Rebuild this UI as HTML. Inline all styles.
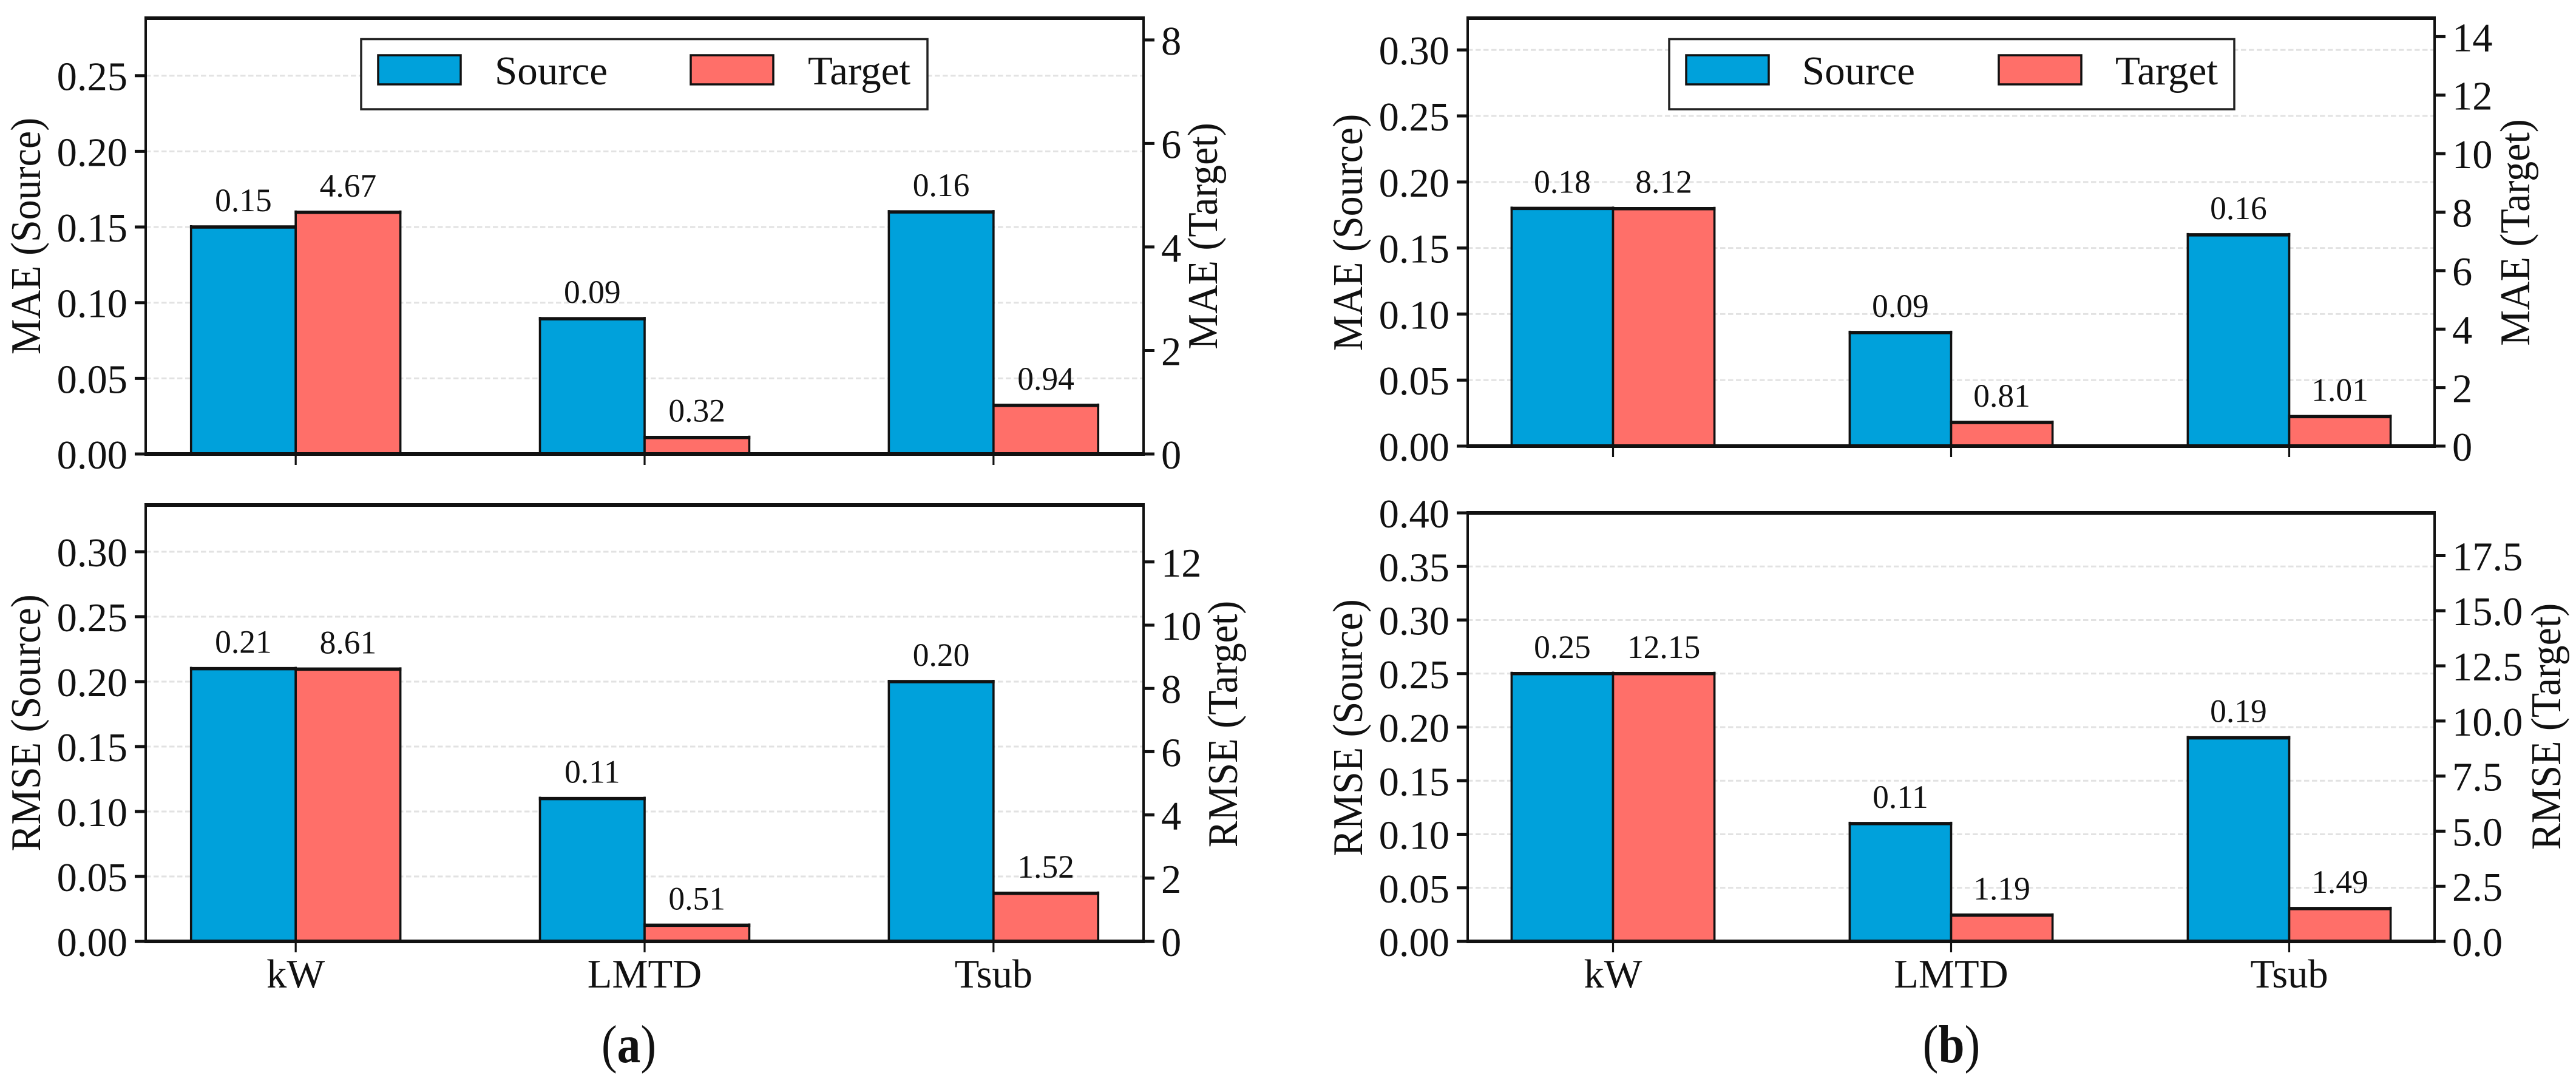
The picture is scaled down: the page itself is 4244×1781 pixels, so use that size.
<!DOCTYPE html>
<html lang="en">
<head>
<meta charset="utf-8">
<title>Source and target error bars</title>
<style>
html,body{margin:0;padding:0;background:#fff;width:4244px;height:1781px;overflow:hidden}
svg{display:block}
text{font-family:"Liberation Serif","Times New Roman",serif;fill:#111}
</style>
</head>
<body>
<svg id="chart" xmlns="http://www.w3.org/2000/svg" width="4244" height="1781" viewBox="0 0 4244 1781">
  <rect x="0" y="0" width="4244" height="1781" fill="#fff"/>
  <g id="plots"></g>

  <g font-size="66">
    <text transform="translate(66,389) rotate(-90) scale(1,1.06)" text-anchor="middle">MAE (Source)</text>
    <text transform="translate(2005,389) rotate(-90) scale(1,1.06)" text-anchor="middle">MAE (Target)</text>
    <text transform="translate(66,1191) rotate(-90) scale(1,1.06)" text-anchor="middle">RMSE (Source)</text>
    <text transform="translate(2038,1193) rotate(-90) scale(1,1.06)" text-anchor="middle">RMSE (Target)</text>
    <text transform="translate(2244,383) rotate(-90) scale(1,1.06)" text-anchor="middle">MAE (Source)</text>
    <text transform="translate(4167,383) rotate(-90) scale(1,1.06)" text-anchor="middle">MAE (Target)</text>
    <text transform="translate(2244,1199) rotate(-90) scale(1,1.06)" text-anchor="middle">RMSE (Source)</text>
    <text transform="translate(4218,1197) rotate(-90) scale(1,1.06)" text-anchor="middle">RMSE (Target)</text>
  </g>

  <g>
    <rect x="595" y="64.5" width="933" height="115.5" fill="#fff" stroke="#222" stroke-width="3.5"/>
    <rect x="623" y="91" width="136" height="48" fill="#00A1DB" stroke="#111" stroke-width="3.5"/>
    <text x="815" y="139" font-size="67">Source</text>
    <rect x="1138" y="91" width="136" height="48" fill="#FF6F69" stroke="#111" stroke-width="3.5"/>
    <text x="1331" y="139" font-size="67">Target</text>
  </g>
  <g>
    <rect x="2750" y="64.5" width="931" height="115.5" fill="#fff" stroke="#222" stroke-width="3.5"/>
    <rect x="2778" y="91" width="136" height="48" fill="#00A1DB" stroke="#111" stroke-width="3.5"/>
    <text x="2969" y="139" font-size="67">Source</text>
    <rect x="3293" y="91" width="136" height="48" fill="#FF6F69" stroke="#111" stroke-width="3.5"/>
    <text x="3485" y="139" font-size="67">Target</text>
  </g>

  <text transform="translate(1036,1750) scale(0.88,1)" font-size="88" text-anchor="middle">(<tspan font-weight="bold">a</tspan>)</text>
  <text transform="translate(3215,1750) scale(0.88,1)" font-size="88" text-anchor="middle">(<tspan font-weight="bold">b</tspan>)</text>
</svg>

<script>
var categories = ['kW', 'LMTD', 'Tsub'];

var maeSourceA = [0.15, 0.0894, 0.16];
var maeTargetA = [4.67, 0.32, 0.94];
var rmseSourceA = [0.21, 0.11, 0.20];
var rmseTargetA = [8.61, 0.51, 1.52];
var maeSourceB = [0.18, 0.086, 0.16];
var maeTargetB = [8.12, 0.81, 1.01];
var rmseSourceB = [0.25, 0.11, 0.19];
var rmseTargetB = [12.15, 1.19, 1.49];

var leftTicksMaeA = ['0.00', '0.05', '0.10', '0.15', '0.20', '0.25'];
var rightTicksMaeA = ['0', '2', '4', '6', '8'];
var leftTicksRmseA = ['0.00', '0.05', '0.10', '0.15', '0.20', '0.25', '0.30'];
var rightTicksRmseA = ['0', '2', '4', '6', '8', '10', '12'];
var leftTicksMaeB = ['0.00', '0.05', '0.10', '0.15', '0.20', '0.25', '0.30'];
var rightTicksMaeB = ['0', '2', '4', '6', '8', '10', '12', '14'];
var leftTicksRmseB = ['0.00', '0.05', '0.10', '0.15', '0.20', '0.25', '0.30', '0.35', '0.40'];
var rightTicksRmseB = ['0.0', '2.5', '5.0', '7.5', '10.0', '12.5', '15.0', '17.5'];

var panels = [
  {id: 'mae-a', x0: 240, x1: 1884, y0: 748, y1: 30, leftMax: 0.288, rightMax: 8.42, src: maeSourceA, tgt: maeTargetA, lt: leftTicksMaeA, rt: rightTicksMaeA, showCats: false},
  {id: 'rmse-a', x0: 240, x1: 1884, y0: 1551, y1: 832, leftMax: 0.336, rightMax: 13.8, src: rmseSourceA, tgt: rmseTargetA, lt: leftTicksRmseA, rt: rightTicksRmseA, showCats: true},
  {id: 'mae-b', x0: 2418, x1: 4011, y0: 735, y1: 30, leftMax: 0.324, rightMax: 14.63, src: maeSourceB, tgt: maeTargetB, lt: leftTicksMaeB, rt: rightTicksMaeB, showCats: false},
  {id: 'rmse-b', x0: 2418, x1: 4011, y0: 1551, y1: 845, leftMax: 0.40, rightMax: 19.44, src: rmseSourceB, tgt: rmseTargetB, lt: leftTicksRmseB, rt: rightTicksRmseB, showCats: true}
];

var NS = 'http://www.w3.org/2000/svg';
var XMIN = -0.43, XMAX = 2.43, BAR = 0.3;
var root = document.getElementById('plots');

function make(parent, tag, props, content) {
  var el = document.createElementNS(NS, tag);
  for (var k in props) { el.setAttribute(k, props[k]); }
  if (content !== undefined) { el.textContent = content; }
  parent.appendChild(el);
  return el;
}
function line(parent, x1, y1, x2, y2, w, color, dash) {
  var props = {x1: x1, y1: y1, x2: x2, y2: y2, stroke: color, 'stroke-width': w};
  if (dash) { props['stroke-dasharray'] = dash; }
  return make(parent, 'line', props);
}

function drawBar(g, p, xLeft, xRight, yTop, fill, name) {
  var bar = make(g, 'g', {});
  
  
  make(bar, 'rect', {x: xLeft, y: yTop, width: xRight - xLeft, height: p.y0 - yTop, fill: fill});
  line(bar, xLeft, yTop - 3, xLeft, p.y0, 3.6, '#111');
  line(bar, xRight, yTop - 3, xRight, p.y0, 3.6, '#111');
  line(bar, xLeft - 1.8, yTop, xRight + 1.8, yTop, 5.5, '#111');
}

panels.forEach(function (p) {
  var xScale = function (v) { return p.x0 + (v - XMIN) / (XMAX - XMIN) * (p.x1 - p.x0); };
  var yLeft = function (v) { return p.y0 - v / p.leftMax * (p.y0 - p.y1); };
  var yRight = function (v) { return p.y0 - v / p.rightMax * (p.y0 - p.y1); };

  var g = make(root, 'g', {});
  
  

  p.lt.forEach(function (t) {
    var v = parseFloat(t), y = yLeft(v);
    if (v > 0 && y > p.y1 + 4) {
      var grid = line(g, p.x0, y, p.x1, y, 3, '#e2e2e2', '8.5 4.5');
      
      
    }
  });

  categories.forEach(function (cat, i) {
    var cx = xScale(i), w = BAR * (p.x1 - p.x0) / (XMAX - XMIN);
    var ySrc = yLeft(p.src[i]), yTgt = yRight(p.tgt[i]);
    drawBar(g, p, cx - w, cx, ySrc, '#00A1DB', 'bar-source-' + cat);
    drawBar(g, p, cx, cx + w, yTgt, '#FF6F69', 'bar-target-' + cat);

    var l1 = make(g, 'text', {x: cx - w / 2, y: ySrc - 26, 'font-size': 53.5, 'text-anchor': 'middle'}, p.src[i].toFixed(2));
    
    
    var l2 = make(g, 'text', {x: cx + w / 2, y: yTgt - 26, 'font-size': 53.5, 'text-anchor': 'middle'}, p.tgt[i].toFixed(2));
    
    

    var tick = line(g, cx, p.y0, cx, p.y0 + 18, 3.2, '#111');
    
    
    if (p.showCats) {
      var c = make(g, 'text', {x: cx, y: p.y0 + 76, 'font-size': 66.5, 'text-anchor': 'middle'}, cat);
      
      
    }
  });

  var spines = make(g, 'g', {});
  
  
  line(spines, p.x0, p.y1 - 3, p.x0, p.y0 + 3, 4, '#111');
  line(spines, p.x1, p.y1 - 3, p.x1, p.y0 + 3, 4, '#111');
  line(spines, p.x0, p.y1, p.x1, p.y1, 6, '#111');
  line(spines, p.x0, p.y0, p.x1, p.y0, 6, '#111');

  p.lt.forEach(function (t) {
    var y = yLeft(parseFloat(t));
    var tick = line(g, p.x0 - 18, y, p.x0, y, 5, '#111');
    
    
    var lab = make(g, 'text', {x: p.x0 - 30, y: y + 24, 'font-size': 66.5, 'text-anchor': 'end'}, t);
    
    
  });
  p.rt.forEach(function (t) {
    var y = yRight(parseFloat(t));
    var tick = line(g, p.x1, y, p.x1 + 18, y, 5, '#111');
    
    
    var lab = make(g, 'text', {x: p.x1 + 29, y: y + 24, 'font-size': 66.5}, t);
    
    
  });
});
</script>
</body>
</html>
